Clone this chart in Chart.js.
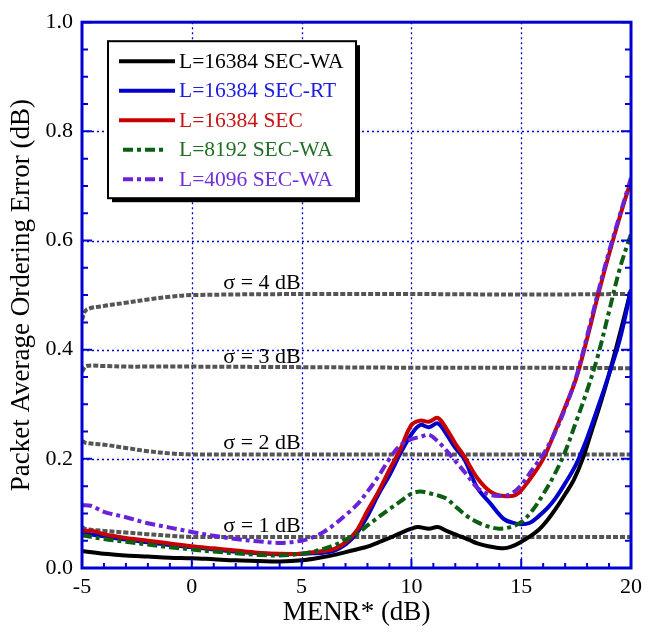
<!DOCTYPE html>
<html>
<head>
<meta charset="utf-8">
<script src="https://cdn.jsdelivr.net/npm/chart.js@4"></script>
<style>
body { margin: 0; background: #fff; }
#wrap { width: 648px; height: 635px; }
</style>
</head>
<body>
<div id="wrap"><canvas id="chart" width="648" height="635"></canvas></div>
<script>
const FONT = "'Liberation Serif', 'Times New Roman', serif";

// series names, legend order
const seriesNames = ['L=16384 SEC-WA', 'L=16384 SEC-RT', 'L=16384 SEC', 'L=8192 SEC-WA', 'L=4096 SEC-WA'];
const sigmaNames = ['σ = 1 dB', 'σ = 2 dB', 'σ = 3 dB', 'σ = 4 dB'];

// L=16384 SEC-WA
const xWa16384 = [-5, -4, -3, -2, -1, 0, 1, 2, 3, 4, 5, 6, 6.5, 7, 7.5, 8, 8.5, 9, 9.5, 10, 10.3, 10.8, 11.2, 11.6, 12.1, 12.6, 13, 13.5, 14.2, 14.6, 15, 15.4, 15.8, 16.2, 16.6, 17, 17.4, 17.8, 18.2, 18.6, 19, 19.5, 20];
const yWa16384 = [0.031, 0.026, 0.023, 0.021, 0.019, 0.018, 0.016, 0.014, 0.013, 0.012, 0.014, 0.02, 0.024, 0.029, 0.034, 0.039, 0.047, 0.055, 0.064, 0.072, 0.075, 0.072, 0.075, 0.068, 0.06, 0.052, 0.045, 0.04, 0.036, 0.04, 0.048, 0.058, 0.07, 0.088, 0.11, 0.135, 0.162, 0.2, 0.25, 0.3, 0.355, 0.43, 0.51];

// L=16384 SEC-RT
const xRt16384 = [-5, -4, -3, -2, -1, 0, 1, 2, 3, 4, 5, 5.5, 6, 6.5, 7, 7.5, 8, 8.5, 9, 9.5, 10, 10.4, 10.8, 11.2, 11.6, 12, 12.4, 13, 13.6, 14.2, 14.6, 15, 15.4, 15.8, 16.2, 16.6, 17, 17.5, 18, 18.5, 19, 19.5, 20];
const yRt16384 = [0.064, 0.058, 0.052, 0.047, 0.042, 0.038, 0.034, 0.03, 0.027, 0.025, 0.026, 0.027, 0.028, 0.032, 0.043, 0.063, 0.095, 0.135, 0.17, 0.21, 0.245, 0.262, 0.258, 0.265, 0.245, 0.22, 0.2, 0.147, 0.118, 0.09, 0.083, 0.08, 0.083, 0.095, 0.11, 0.13, 0.155, 0.19, 0.238, 0.295, 0.355, 0.42, 0.51];

// L=16384 SEC
const xSec16384 = [-5, -4.5, -4, -3, -2, -1, 0, 1, 2, 3, 4, 5, 5.5, 6, 6.5, 7, 7.5, 8, 8.5, 9, 9.5, 10, 10.4, 10.8, 11.2, 11.6, 12, 12.4, 13, 13.6, 14.2, 14.8, 15.4, 16, 16.6, 17, 17.5, 18, 18.5, 19, 19.5, 20];
const ySec16384 = [0.068, 0.068, 0.062, 0.055, 0.05, 0.045, 0.04, 0.036, 0.032, 0.028, 0.026, 0.026, 0.029, 0.031, 0.035, 0.047, 0.068, 0.105, 0.14, 0.18, 0.218, 0.262, 0.27, 0.268, 0.275, 0.255, 0.228, 0.205, 0.165, 0.14, 0.132, 0.135, 0.163, 0.2, 0.256, 0.295, 0.347, 0.42, 0.5, 0.575, 0.645, 0.71];

// L=8192 SEC-WA
const xWa8192 = [-5, -4, -3, -2, -1, 0, 1, 2, 3, 4, 5, 5.5, 6, 6.5, 7, 7.5, 8, 8.5, 9, 9.5, 10, 10.4, 10.8, 11.2, 11.6, 12, 12.5, 13, 13.5, 14, 14.5, 15, 15.5, 16, 16.5, 17, 17.5, 18, 18.5, 19, 19.5, 20];
const yWa8192 = [0.06, 0.053, 0.048, 0.043, 0.038, 0.034, 0.03, 0.027, 0.024, 0.023, 0.026, 0.03, 0.035, 0.042, 0.052, 0.062, 0.078, 0.093, 0.108, 0.122, 0.136, 0.14, 0.137, 0.133, 0.127, 0.113, 0.096, 0.084, 0.076, 0.072, 0.075, 0.084, 0.105, 0.135, 0.17, 0.213, 0.268, 0.325, 0.39, 0.47, 0.55, 0.612];

// L=4096 SEC-WA
const xWa4096 = [-5, -4.6, -4, -3, -2, -1, 0, 1, 2, 3, 4, 5, 5.5, 6, 6.5, 7, 7.5, 8, 8.5, 9, 9.5, 10, 10.4, 10.8, 11.2, 11.6, 12, 12.5, 13, 13.5, 14, 14.5, 15, 15.5, 16, 16.5, 17, 17.5, 18, 18.5, 19, 19.5, 20];
const yWa4096 = [0.115, 0.114, 0.103, 0.093, 0.082, 0.074, 0.066, 0.059, 0.053, 0.049, 0.046, 0.05, 0.056, 0.066, 0.08, 0.097, 0.115, 0.14, 0.168, 0.2, 0.225, 0.236, 0.24, 0.244, 0.232, 0.215, 0.196, 0.172, 0.147, 0.135, 0.132, 0.135, 0.152, 0.18, 0.208, 0.245, 0.292, 0.35, 0.425, 0.505, 0.58, 0.648, 0.715];

// reference sigma curves
const xSigma = [-5, -4.8, -4, -3, -2, -1, 0, 5, 10, 15, 20];
const ySigma1 = [0.075, 0.071, 0.068, 0.065, 0.062, 0.059, 0.057, 0.057, 0.057, 0.057, 0.057];
const ySigma2 = [0.233, 0.229, 0.226, 0.22, 0.214, 0.21, 0.208, 0.208, 0.208, 0.208, 0.208];
const ySigma3 = [0.36, 0.37, 0.37, 0.369, 0.369, 0.369, 0.369, 0.368, 0.367, 0.367, 0.366];
const ySigma4 = [0.455, 0.473, 0.48, 0.486, 0.492, 0.497, 0.5, 0.502, 0.502, 0.501, 0.502];

const xGrid = [0, 5, 10, 15];
const yGrid = [0.2, 0.4, 0.6, 0.8];

const lineColors = ['#000000', '#0000cc', '#c80000', '#0b5e12', '#6a22d8'];
const textColors = ['#000000', '#1c1ce0', '#c81414', '#1e6e24', '#7030d8'];
const dashes = [[], [], [], [10, 4, 4, 4], [10, 4, 4, 4]];
const AXIS_BLUE = '#0000d0';

const pts = (xs, ys) => xs.map((x, i) => ({ x: x, y: ys[i] }));

function series(i, xs, ys, order) {
	return {
		label: seriesNames[i],
		data: pts(xs, ys),
		borderColor: lineColors[i],
		borderWidth: 4,
		borderDash: dashes[i],
		order: order,
	};
}

function sigma(i, ys) {
	return {
		label: sigmaNames[i],
		data: pts(xSigma, ys),
		borderColor: '#555555',
		borderWidth: 4,
		borderDash: [5, 2],
		order: 9,
	};
}

const framePlugin = {
	id: 'frame',
	beforeDatasetsDraw(chart) {
		const { ctx, chartArea: a, scales: { x, y } } = chart;
		ctx.save();
		ctx.strokeStyle = AXIS_BLUE;
		ctx.lineWidth = 1.3;
		ctx.setLineDash([2, 3]);
		xGrid.forEach((v) => {
			const px = Math.round(x.getPixelForValue(v)) + 0.5;
			ctx.beginPath();
			ctx.moveTo(px, a.top);
			ctx.lineTo(px, a.bottom);
			ctx.stroke();
		});
		yGrid.forEach((v) => {
			const py = Math.round(y.getPixelForValue(v)) + 0.5;
			ctx.beginPath();
			ctx.moveTo(a.left, py);
			ctx.lineTo(a.right, py);
			ctx.stroke();
		});
		ctx.restore();
	},
	afterDatasetsDraw(chart) {
		const { ctx, chartArea: a, scales: { x, y } } = chart;
		ctx.save();

		// sigma labels above each gray curve
		ctx.font = '22px ' + FONT;
		ctx.fillStyle = '#000';
		ctx.textAlign = 'center';
		ctx.textBaseline = 'alphabetic';
		const sigmaLevels = [ySigma1, ySigma2, ySigma3, ySigma4];
		sigmaLevels.forEach((ys, i) => {
			ctx.fillText(sigmaNames[i], x.getPixelForValue(3.2), y.getPixelForValue(ys[ys.length - 1]) - 5);
		});

		// frame
		ctx.strokeStyle = AXIS_BLUE;
		ctx.lineWidth = 3;
		ctx.strokeRect(a.left, a.top, a.right - a.left, a.bottom - a.top);

		// inside ticks
		ctx.lineWidth = 2;
		for (let v = -5; v <= 20; v++) {
			const px = x.getPixelForValue(v);
			const len = v % 5 == 0 ? 9 : 5;
			ctx.beginPath();
			ctx.moveTo(px, a.bottom);
			ctx.lineTo(px, a.bottom - len);
			ctx.stroke();
		}
		for (let k = 0; k <= 20; k++) {
			const py = y.getPixelForValue(k * 0.05);
			const len = k % 4 == 0 ? 10 : 6;
			ctx.beginPath();
			ctx.moveTo(a.left, py);
			ctx.lineTo(a.left + len, py);
			ctx.moveTo(a.right, py);
			ctx.lineTo(a.right - len, py);
			ctx.stroke();
		}

		// legend box
		const bx = a.left + 26, by = a.top + 19, bw = 248, bh = 157;
		ctx.fillStyle = '#000';
		ctx.fillRect(bx + 4, by + 4, bw, bh);
		ctx.fillStyle = '#fff';
		ctx.fillRect(bx, by, bw, bh);
		ctx.strokeStyle = '#000';
		ctx.lineWidth = 2;
		ctx.strokeRect(bx, by, bw, bh);

		ctx.font = '21.5px ' + FONT;
		ctx.textAlign = 'left';
		ctx.textBaseline = 'middle';
		seriesNames.forEach((name, i) => {
			const ry = by + 20 + i * 29.5;
			const dashed = dashes[i].length > 0;
			ctx.strokeStyle = lineColors[i];
			ctx.lineWidth = 4;
			ctx.setLineDash(dashes[i]);
			ctx.beginPath();
			ctx.moveTo(bx + (dashed ? 15 : 11), ry);
			ctx.lineTo(bx + (dashed ? 59 : 67), ry);
			ctx.stroke();
			ctx.setLineDash([]);
			ctx.fillStyle = textColors[i];
			ctx.fillText(name, bx + 71, ry + 1);
		});
		ctx.restore();
	},
};

new Chart(document.getElementById('chart'), {
	type: 'line',
	data: {
		datasets: [
			series(0, xWa16384, yWa16384, 5),
			series(1, xRt16384, yRt16384, 4),
			series(2, xSec16384, ySec16384, 3),
			series(3, xWa8192, yWa8192, 2),
			series(4, xWa4096, yWa4096, 1),
			sigma(0, ySigma1),
			sigma(1, ySigma2),
			sigma(2, ySigma3),
			sigma(3, ySigma4),
		],
	},
	options: {
		responsive: false,
		animation: false,
		layout: { padding: { top: 16, right: 13, left: 0, bottom: 0 } },
		elements: {
			point: { radius: 0 },
			line: { tension: 0.35, fill: false, borderCapStyle: 'butt' },
		},
		plugins: {
			legend: { display: false },
			tooltip: { enabled: false },
		},
		scales: {
			x: {
				type: 'linear',
				min: -5,
				max: 20,
				afterFit: (s) => { s.height = 67; },
				ticks: { stepSize: 5, color: '#000', font: { family: FONT, size: 22 }, padding: 6, maxRotation: 0 },
				grid: { display: false, drawTicks: false },
				border: { display: false },
				title: { display: true, text: 'MENR* (dB)', color: '#000', font: { family: FONT, size: 27 }, padding: { top: 0, bottom: 6 } },
			},
			y: {
				min: 0,
				max: 1,
				afterFit: (s) => { s.width = 82; },
				ticks: { stepSize: 0.2, color: '#000', font: { family: FONT, size: 22 }, padding: 9, callback: (v) => v.toFixed(1) },
				grid: { display: false, drawTicks: false },
				border: { display: false },
				title: { display: true, text: 'Packet Average Ordering Error (dB)', color: '#000', font: { family: FONT, size: 27 }, padding: { top: 6, bottom: 0 } },
			},
		},
	},
	plugins: [framePlugin],
});
</script>
</body>
</html>
